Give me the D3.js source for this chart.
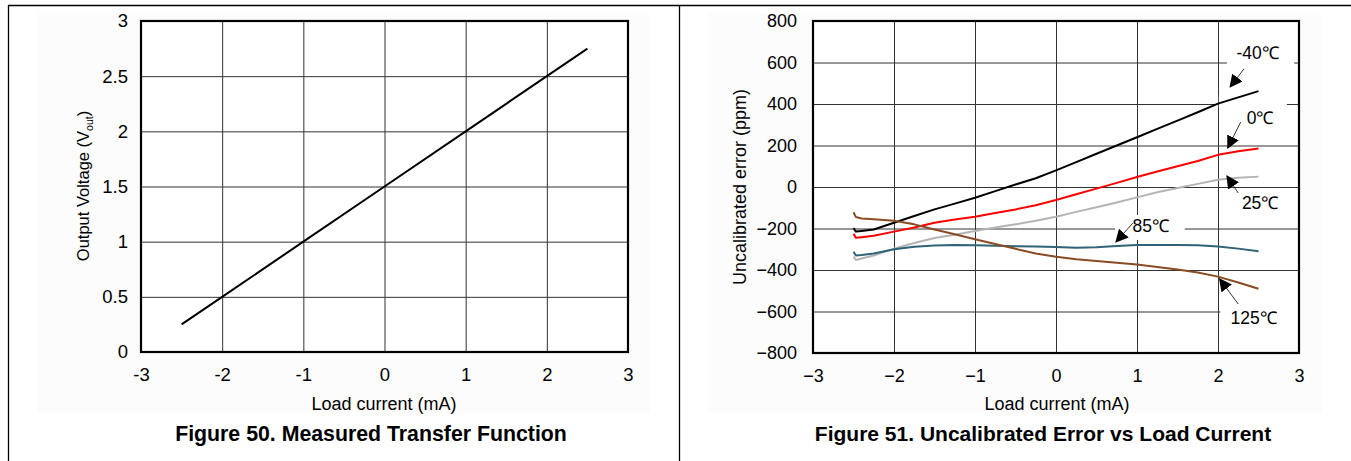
<!DOCTYPE html>
<html><head><meta charset="utf-8">
<script src="https://cdn.jsdelivr.net/npm/d3@7"></script>
<style>
body{margin:0;background:#fff}
text{font-family:"Liberation Sans",Arial,Helvetica,sans-serif;fill:#000}
</style></head>
<body><svg id="c" width="1351" height="461"></svg>
<script>
// ---------- Data ----------
const xTicks = [-3, -2, -1, 0, 1, 2, 3];
const voltTicks = [0, 0.5, 1, 1.5, 2, 2.5, 3];
const errTicks = [-800, -600, -400, -200, 0, 200, 400, 600, 800];

// Figure 50: measured transfer function
const transferCurrent = [-2.5, -2, -1, 0, 1, 2, 2.5];
const transferVoltage = [0.25, 0.5, 1, 1.5, 2, 2.5, 2.75];

// Figure 51: uncalibrated error (ppm) vs load current (mA)
const loadCurrent = [-2.5, -2.47, -2.4, -2.25, -2, -1.75, -1.5, -1.25, -1, -0.75, -0.5, -0.25, 0, 0.25, 0.5, 0.75, 1, 1.25, 1.5, 1.75, 2, 2.25, 2.5];
const errM40 = [-198, -215, -212, -205, -172, -140, -108, -80, -52, -20, 12, 42, 80, 120, 160, 200, 240, 280, 320, 360, 402, 432, 462];
const err0   = [-225, -245, -242, -235, -215, -195, -172, -157, -143, -125, -108, -88, -63, -35, -8, 20, 48, 75, 100, 125, 155, 172, 185];
const err25  = [-335, -352, -345, -330, -298, -270, -246, -230, -212, -195, -180, -163, -143, -120, -98, -75, -50, -25, -5, 15, 35, 45, 50];
const err85  = [-312, -330, -328, -320, -300, -288, -282, -280, -281, -283, -285, -287, -289, -293, -290, -284, -280, -279, -280, -281, -287, -297, -310];
const err125 = [-122, -145, -152, -155, -163, -180, -205, -228, -252, -275, -298, -320, -336, -348, -357, -365, -374, -385, -398, -412, -432, -460, -490];

const seriesNames = ["-40℃", "0℃", "25℃", "85℃", "125℃"];
const seriesValues = [errM40, err0, err25, err85, err125];
const seriesColors = ["#000000", "#ff0000", "#b4b4b4", "#2e6378", "#8a4b22"];

// annotation (data units): label position, arrow start, arrow tip
const labelX  = [2.49, 2.52, 2.52, 1.17, 2.44];
const labelY  = [646, 333, -77, -188, -631];
const arrowX0 = [2.32, 2.28, 2.25, 0.95, 2.25];
const arrowY0 = [569, 313, -29, -173, -564];
const arrowX1 = [2.15, 2.12, 2.11, 0.74, 2.02];
const arrowY1 = [482, 188, 53, -265, -443];
// white boxes behind labels that break the grid (data units: x0,x1,y0,y1)
const maskX0 = [2.11, 2.01, 0.73, 2.03];
const maskX1 = [2.94, 2.85, 1.59, 2.99];
const maskY0 = [583, 381, -255, -713];
const maskY1 = [689, 443, -135, -545];

// ---------- Drawing ----------
const svg = d3.select("#c");
const FF = '"Liberation Sans",Arial,sans-serif';

// page frame
svg.append("line").attr("x1", 8).attr("x2", 1351).attr("y1", 5.5).attr("y2", 5.5).attr("stroke", "#000").attr("stroke-width", 1.3);
svg.append("line").attr("x1", 8.5).attr("x2", 8.5).attr("y1", 5).attr("y2", 461).attr("stroke", "#000").attr("stroke-width", 1.3);
svg.append("line").attr("x1", 679.5).attr("x2", 679.5).attr("y1", 5).attr("y2", 461).attr("stroke", "#000").attr("stroke-width", 1.3);

// faint backgrounds
svg.append("rect").attr("x", 37).attr("y", 13).attr("width", 613).attr("height", 400).attr("fill", "#fcfcfc");
svg.append("rect").attr("x", 708).attr("y", 13).attr("width", 614).attr("height", 400).attr("fill", "#fcfcfc");

function panel(opts) {
  const x = d3.scaleLinear().domain([-3, 3]).range(opts.xr);
  const y = d3.scaleLinear().domain(opts.yd).range(opts.yr);
  const g = svg.append("g");
  g.append("rect").attr("x", opts.xr[0]).attr("y", opts.yr[1]).attr("width", opts.xr[1] - opts.xr[0]).attr("height", opts.yr[0] - opts.yr[1]).attr("fill", "#fff");
  // grid
  g.append("g").attr("transform", `translate(0,${opts.yr[0]})`)
    .call(d3.axisBottom(x).tickValues(xTicks).tickSize(-(opts.yr[0] - opts.yr[1])).tickFormat(""))
    .call(s => s.select(".domain").remove())
    .call(s => s.selectAll("line").attr("stroke", "#333").attr("stroke-width", 1));
  g.append("g").attr("transform", `translate(${opts.xr[0]},0)`)
    .call(d3.axisLeft(y).tickValues(opts.yticks).tickSize(-(opts.xr[1] - opts.xr[0])).tickFormat(""))
    .call(s => s.select(".domain").remove())
    .call(s => s.selectAll("line").attr("stroke", "#333").attr("stroke-width", 1));
  // tick labels
  g.append("g").attr("transform", `translate(0,${opts.yr[0]})`)
    .call(d3.axisBottom(x).tickValues(xTicks).tickSize(0).tickPadding(opts.xpad).tickFormat(opts.xfmt))
    .call(s => s.select(".domain").remove())
    .call(s => s.attr("font-size", opts.fs).attr("font-family", FF))
    .call(s => s.selectAll("text").attr("font-size", opts.fs).attr("fill", "#000"));
  g.append("g").attr("transform", `translate(${opts.xr[0]},0)`)
    .call(d3.axisLeft(y).tickValues(opts.yticks).tickSize(0).tickPadding(opts.ypad).tickFormat(opts.yfmt))
    .call(s => s.select(".domain").remove())
    .call(s => s.attr("font-size", opts.fs).attr("font-family", FF))
    .call(s => s.selectAll("text").attr("font-size", opts.fs).attr("fill", "#000"));
  return {x, y, g};
}

// ---------- Figure 50 ----------
const L = panel({xr: [141, 628], yr: [352, 21], yd: [0, 3], yticks: voltTicks,
  xfmt: d => String(d), yfmt: d => String(d), ypad: 13, xpad: 16, fs: 18.5});
L.g.append("path").datum(transferCurrent.map((c, i) => [c, transferVoltage[i]]))
  .attr("d", d3.line().x(d => L.x(d[0])).y(d => L.y(d[1])))
  .attr("fill", "none").attr("stroke", "#000").attr("stroke-width", 2);
L.g.append("rect").attr("x", 141).attr("y", 21).attr("width", 487).attr("height", 331)
  .attr("fill", "none").attr("stroke", "#000").attr("stroke-width", 2.2);
svg.append("text").attr("x", 384).attr("y", 410).attr("text-anchor", "middle").attr("font-size", 18).text("Load current (mA)");
const yl = svg.append("text").attr("transform", "translate(89,186) rotate(-90)").attr("text-anchor", "middle").attr("font-size", 16.5);
yl.append("tspan").text("Output Voltage (V");
yl.append("tspan").attr("font-size", 10.5).attr("dy", 4).text("out");
yl.append("tspan").attr("dy", -4).text(")");
svg.append("text").attr("x", 371).attr("y", 441).attr("text-anchor", "middle").attr("font-size", 21.3).attr("font-weight", "bold").text("Figure 50. Measured Transfer Function");

// ---------- Figure 51 ----------
const R = panel({xr: [813, 1299], yr: [353, 21], yd: [-800, 800], yticks: errTicks,
  xfmt: d3.format("d"), yfmt: d3.format("d"), ypad: 16, xpad: 16, fs: 18});
// label masks
maskX0.forEach((_, i) => {
  R.g.append("rect").attr("x", R.x(maskX0[i])).attr("y", R.y(maskY1[i]))
    .attr("width", R.x(maskX1[i]) - R.x(maskX0[i])).attr("height", R.y(maskY0[i]) - R.y(maskY1[i]))
    .attr("fill", "#fff");
});
const line = d3.line().x((d, i) => R.x(loadCurrent[i])).y(d => R.y(d));
seriesValues.forEach((vals, k) => {
  R.g.append("path").datum(vals).attr("d", line)
    .attr("fill", "none").attr("stroke", seriesColors[k]).attr("stroke-width", 2).attr("stroke-linejoin", "round");
});
// arrow heads
svg.append("defs").append("marker").attr("id", "ah").attr("viewBox", "0 0 12 12")
  .attr("refX", 11).attr("refY", 6).attr("markerWidth", 13).attr("markerHeight", 13)
  .attr("markerUnits", "userSpaceOnUse").attr("orient", "auto")
  .append("path").attr("d", "M0,0 L12,6 L0,12 Z").attr("fill", "#000");
seriesNames.forEach((name, i) => {
  R.g.append("line").attr("x1", R.x(arrowX0[i])).attr("y1", R.y(arrowY0[i]))
    .attr("x2", R.x(arrowX1[i])).attr("y2", R.y(arrowY1[i]))
    .attr("stroke", "#000").attr("stroke-width", 0.8).attr("marker-end", "url(#ah)");
  R.g.append("text").attr("x", R.x(labelX[i])).attr("y", R.y(labelY[i])).attr("dy", "0.35em")
    .attr("text-anchor", "middle").attr("font-size", 17.5).text(name);
});
R.g.append("rect").attr("x", 813).attr("y", 21).attr("width", 486).attr("height", 332)
  .attr("fill", "none").attr("stroke", "#000").attr("stroke-width", 2.2);
svg.append("text").attr("x", 1057).attr("y", 410).attr("text-anchor", "middle").attr("font-size", 18).text("Load current (mA)");
svg.append("text").attr("transform", "translate(746,187) rotate(-90)").attr("text-anchor", "middle").attr("font-size", 18).text("Uncalibrated error (ppm)");
svg.append("text").attr("x", 1043).attr("y", 441).attr("text-anchor", "middle").attr("font-size", 21).attr("font-weight", "bold").text("Figure 51. Uncalibrated Error vs Load Current");
</script></body></html>
